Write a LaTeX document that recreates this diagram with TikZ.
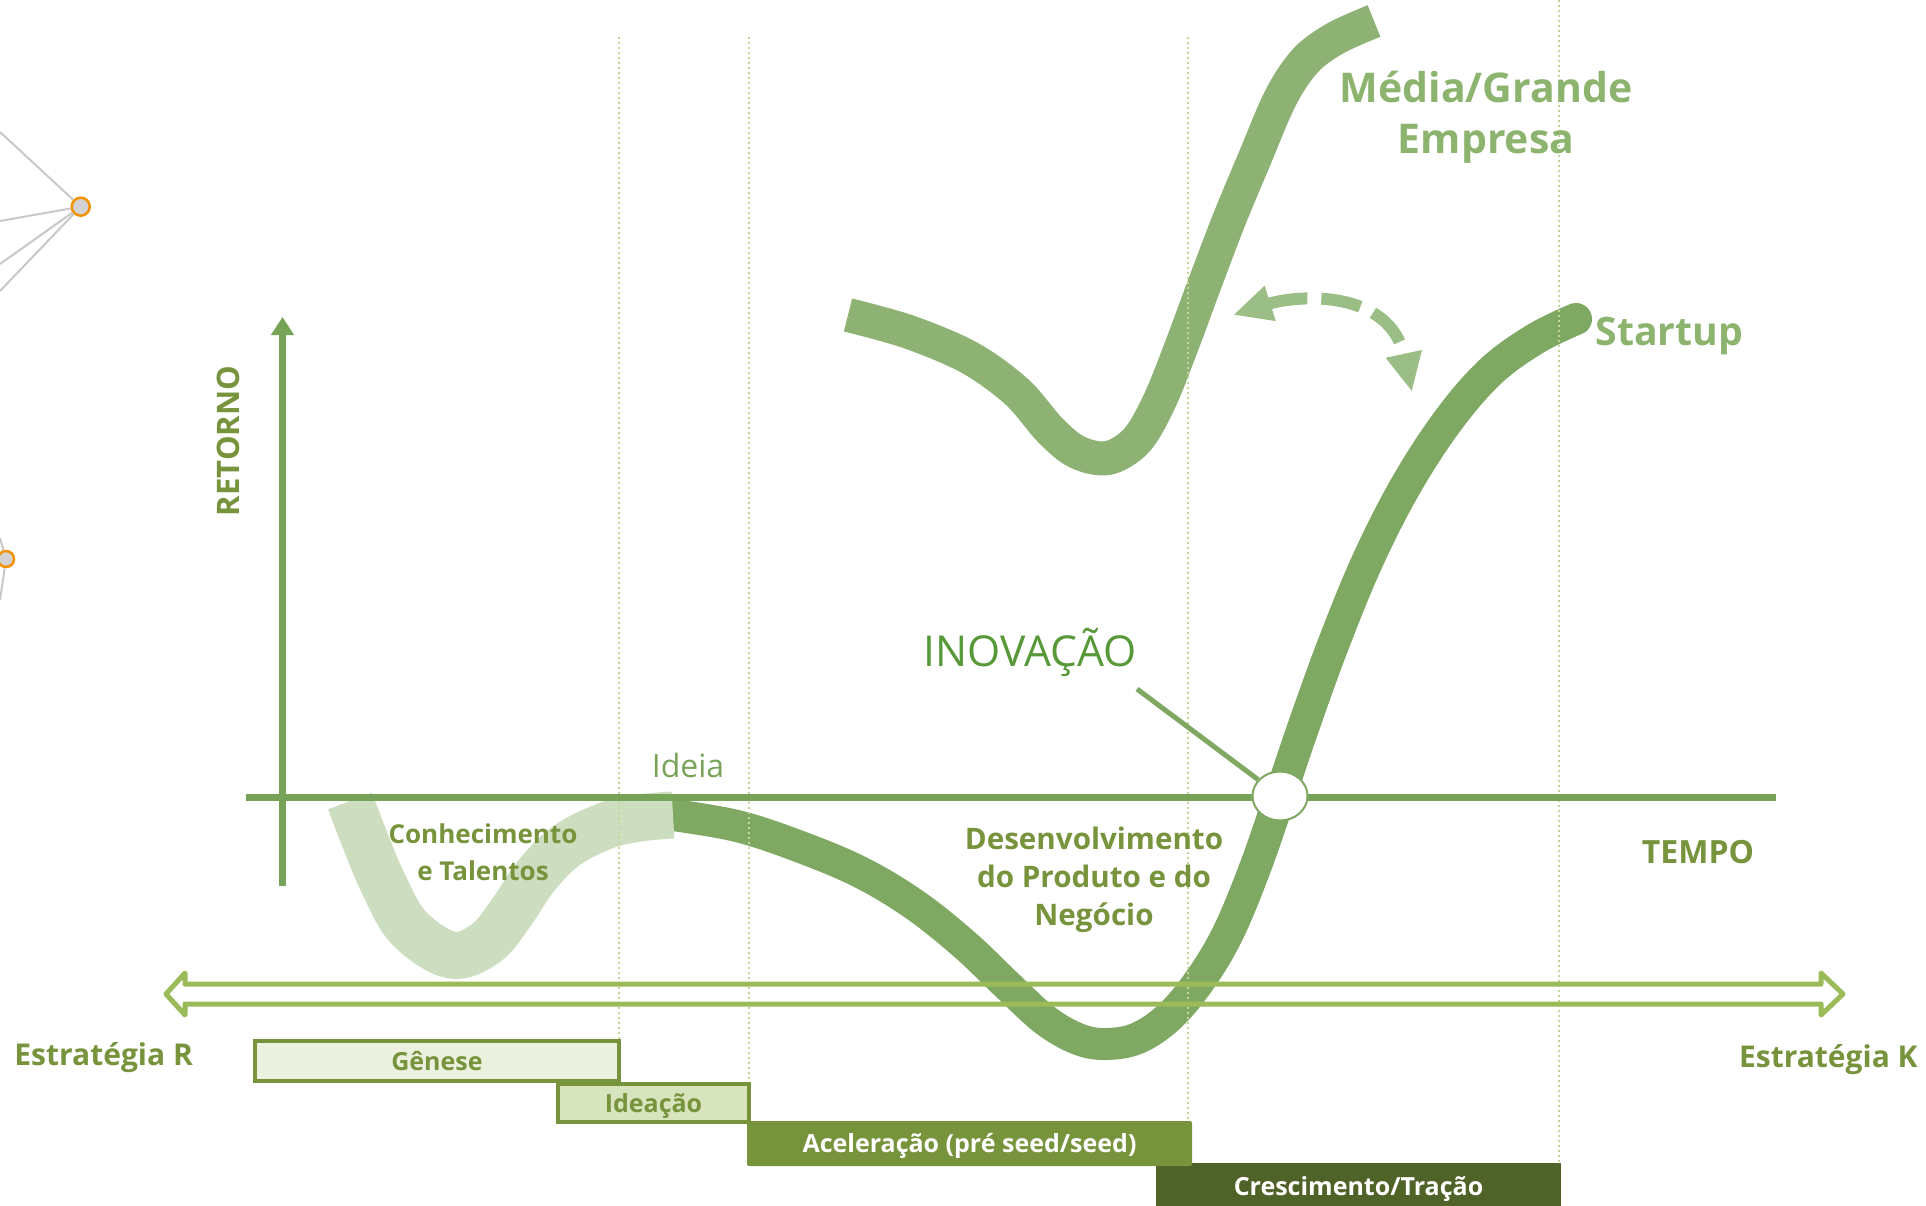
\documentclass[tikz,border=0pt]{standalone}
\usepackage{fontspec}
\setmainfont{Open Sans}
\usetikzlibrary{arrows.meta,shapes.geometric}
\definecolor{olive}{HTML}{77933C}
\definecolor{axisg}{HTML}{76A357}
\definecolor{darkc}{HTML}{7FA862}
\definecolor{medc}{HTML}{8DB274}
\definecolor{lightc}{HTML}{CDDDBF}
\definecolor{arrowg}{HTML}{9BBB59}
\definecolor{dashg}{HTML}{9BBE87}
\definecolor{dotg}{HTML}{C3D69B}
\definecolor{inovg}{HTML}{579838}
\definecolor{ideiag}{HTML}{7AA35A}
\definecolor{labg}{HTML}{8CB46E}
\definecolor{genfill}{HTML}{EBF1DE}
\definecolor{idefill}{HTML}{D7E4BD}
\definecolor{crefill}{HTML}{4F6228}
\definecolor{netg}{HTML}{C8C8C8}
\definecolor{neto}{HTML}{F39200}
\definecolor{netf}{HTML}{D3D3D3}
\newcommand{\fsz}[2]{\fontsize{#1}{#2}\selectfont}
\begin{document}
\begin{tikzpicture}[x=0.5pt,y=-0.5pt,
  netline/.style={draw=netg, line width=1pt},
  netnode/.style={circle, draw=neto, fill=netf, line width=1.25pt, inner sep=0pt},
  curvelight/.style={draw=lightc, line width=23.5pt, line cap=butt},
  curvedark/.style={draw=darkc, line width=16pt, line cap=round},
  curvemed/.style={draw=medc, line width=17pt, line cap=butt},
  guide/.style={draw=dotg, line width=1pt, dash pattern=on 1pt off 1.5pt},
  axisline/.style={draw=axisg, line width=3.5pt},
  dblarrow/.style={draw=arrowg, line width=2.5pt, line join=round},
  swap/.style={draw=dashg, line width=6pt, dash pattern=on 20pt off 7pt,
    {Triangle[length=19.5pt,width=17pt]}-{Triangle[length=19.5pt,width=17pt]}},
  stagebox/.style={inner sep=0pt, font=\bfseries\fsz{12.5pt}{15pt}, text height=9pt, text depth=0pt},
  lbl/.style={inner sep=0pt, font=\bfseries, text=olive}
]
\useasboundingbox (0,0) rectangle (1926,1205);
% --- decorative network fragment (left edge)
\node[netnode, minimum size=9pt] (c1) at (80.7,206.7) {};
\node[netnode, minimum size=8pt] (c2) at (6,559) {};
\coordinate (n1a) at (0,132);
\coordinate (n1b) at (0,221);
\coordinate (n1c) at (0,264);
\coordinate (n1d) at (0,291);
\coordinate (n2a) at (0,538);
\coordinate (n2b) at (0,600);
\draw[netline] (n1a) -- (c1);
\draw[netline] (n1b) -- (c1);
\draw[netline] (n1c) -- (c1);
\draw[netline] (n1d) -- (c1);
\draw[netline] (n2a) -- (c2);
\draw[netline] (n2b) -- (c2);
% --- curves
\draw[curvedark] plot[smooth, tension=0.6] coordinates {(673,815) (737,826) (798,846) (860,872) (915,905) (965,945) (1007,985) (1045,1020) (1078,1039) (1106,1044) (1138,1038) (1170,1016) (1200,980) (1228,933) (1255,868) (1280,796) (1303,728) (1333,645) (1367,562) (1405,487) (1447,422) (1490,372) (1535,339) (1576,319)};
\draw[curvelight] plot[smooth, tension=0.6] coordinates {(350,801) (365,840) (384,885) (409,928) (451,955) (486,943) (511,913) (536,876) (566,846) (605,826) (640,818) (673,815)};
\draw[curvemed] plot[smooth, tension=0.55] coordinates {(848,315) (909,332) (970,358) (1017,392) (1050,430) (1077,452) (1108,458) (1137,440) (1160,400) (1182,345) (1205,283) (1229,220) (1254,160) (1281,97) (1306,60) (1336,38) (1374,21)};
% --- dashed exchange arrow
\coordinate (swapL) at (1233,315);
\coordinate (swapR) at (1412,392);
\draw[swap] (swapL) .. controls (1300,294) and (1390,290) .. (swapR);
% --- dotted guides
\coordinate (g1t) at (619,37);  \coordinate (g1b) at (619,1040);
\coordinate (g2t) at (749,37);  \coordinate (g2b) at (749,1082);
\coordinate (g3t) at (1188,37); \coordinate (g3b) at (1188,1121);
\coordinate (g4t) at (1559,0);  \coordinate (g4b) at (1559,1163);
\draw[guide] (g1t) -- (g1b);
\draw[guide] (g2t) -- (g2b);
\draw[guide] (g3t) -- (g3b);
\draw[guide] (g4t) -- (g4b);
% --- axes
\coordinate (xa0) at (246,797);
\coordinate (xa1) at (1776,797);
\coordinate (ya0) at (282.5,886);
\coordinate (ya1) at (282.5,317);
\draw[axisline] (xa0) -- (xa1);
\draw[axisline, -{Triangle[length=9pt,width=11pt]}] (ya0) -- (ya1);
% --- innovation marker
\node[ellipse, draw=darkc, fill=white, line width=1pt, minimum width=27.5pt, minimum height=24.5pt, inner sep=0pt] (inov) at (1280,796) {};
\coordinate (inovtail) at (1137,689);
\draw[draw=darkc, line width=2.5pt] (inovtail) -- (inov);
% --- strategy double arrow
\draw[dblarrow] (166,994) -- (185,973) -- (185,984) -- (1821,984) -- (1821,973) -- (1843,994) -- (1821,1015) -- (1821,1004) -- (185,1004) -- (185,1015) -- cycle;
% --- stage boxes
\node[stagebox, fill=genfill, draw=olive, line width=2pt, minimum width=182pt, minimum height=20pt, text=olive] (genese) at (437,1061) {Gênese};
\node[stagebox, fill=idefill, draw=olive, line width=2pt, minimum width=95.5pt, minimum height=19pt, text=olive] (ideacao) at (653.5,1103) {Ideação};
\node[stagebox, fill=crefill, minimum width=202.5pt, minimum height=23.5pt, text=white] (cresc) at (1358.5,1186.5) {Crescimento/Tração};
\node[stagebox, fill=olive, rounded corners=1pt, minimum width=222.5pt, minimum height=22.5pt, text=white] (acel) at (969.5,1143.5) {Aceleração (pré seed/seed)};
% --- labels
\node[lbl, font=\bfseries\fsz{15.5pt}{18pt}, rotate=90, text height=11pt, text depth=0pt] (retorno) at (228.5,441) {RETORNO};
\node[lbl, font=\bfseries\fsz{16pt}{19pt}, anchor=base] (tempo) at (1698,863) {TEMPO};
\node[lbl, font=\bfseries\fsz{15pt}{18pt}, anchor=base west] (estr) at (14,1065) {Estratégia R};
\node[lbl, font=\bfseries\fsz{15pt}{18pt}, anchor=base east] (estk) at (1918,1067) {Estratégia K};
\node[lbl, font=\bfseries\fsz{19.6pt}{22pt}, text=labg, anchor=base west] (startup) at (1595,345) {Startup};
\node[lbl, font=\bfseries\fsz{20.5pt}{25.5pt}, text=labg, align=center] (media) at (1486,117) {Média/Grande\\Empresa};
\node[inner sep=0pt, font=\fsz{21.3pt}{24pt}, text=inovg, anchor=base] (inovlbl) at (1030,666) {INOVAÇÃO};
\node[inner sep=0pt, font=\fsz{16pt}{19pt}, text=ideiag, anchor=base] (ideia) at (688,777) {Ideia};
\node[lbl, font=\bfseries\fsz{13pt}{18.5pt}, align=center] (conh) at (483,852) {Conhecimento\\e Talentos};
\node[lbl, font=\bfseries\fsz{14.8pt}{18.9pt}, align=center] (desenv) at (1094,880) {Desenvolvimento\\do Produto e do\\Negócio};
\end{tikzpicture}
\end{document}
